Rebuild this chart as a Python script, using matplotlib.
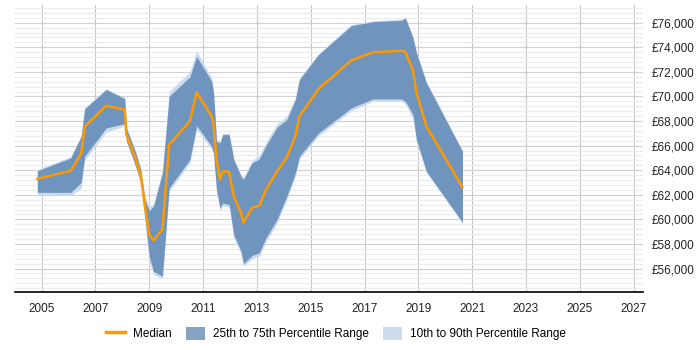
import matplotlib
matplotlib.use("Agg")
import matplotlib.pyplot as plt
from matplotlib.patches import Patch
from matplotlib.lines import Line2D
from matplotlib.ticker import MultipleLocator, FixedLocator, FuncFormatter

plt.rcParams['font.family'] = ['Liberation Sans', 'DejaVu Sans']

years = [2004.84, 2006.08, 2006.47, 2006.6, 2007.4, 2008.09, 2008.15, 2008.5,
         2008.69, 2008.84, 2009.0, 2009.16, 2009.49, 2009.74, 2010.51, 2010.76,
         2011.32, 2011.39, 2011.5, 2011.63, 2011.73, 2011.97, 2012.14, 2012.41,
         2012.5, 2012.82, 2013.09, 2013.34, 2013.75, 2014.11, 2014.43, 2014.58,
         2015.29, 2016.51, 2017.31, 2018.37, 2018.52, 2018.8, 2018.93, 2019.3,
         2020.64]
median = [63300, 63950, 65350, 67550, 69250, 68930, 66900, 64860,
          63500, 61070, 58760, 58300, 59170, 66080, 67980, 70340,
          68380, 67710, 64860, 63240, 63910, 63860, 61880, 60530,
          59720, 60940, 61120, 62420, 63910, 65050, 66760, 68380,
          70610, 72940, 73590, 73720, 73620, 72120, 70290, 67570,
          62610]
p75 = [63950, 65000, 66750, 69000, 70550, 69820, 67440, 65400,
       64000, 61600, 60700, 61070, 63780, 70010, 71590, 73260,
       71230, 70290, 66350, 66220, 66890, 66890, 64860, 63500,
       63240, 64590, 64920, 66000, 67500, 68110, 69740, 71370,
       73400, 75760, 76080, 76190, 76380, 74760, 73540, 71100,
       65540]
p25 = [62200, 62200, 63000, 65130, 67440, 67790, 66400, 64300,
       63000, 60250, 57000, 55780, 55375, 62560, 64860, 67630,
       65940, 65400, 62420, 60940, 61340, 61200, 58760, 57410,
       56400, 57060, 57280, 58500, 60000, 61880, 63780, 65130,
       67030, 69070, 69800, 69800, 69600, 68520, 66490, 63910,
       59770]
p90 = [64050, 65100, 66850, 69100, 70650, 69900, 67500, 65500,
       64100, 61900, 61000, 61300, 64000, 70400, 72000, 73700,
       71500, 70500, 66500, 66400, 67000, 67000, 65000, 63650,
       63400, 64800, 65200, 66300, 67800, 68400, 69900, 71500,
       73500, 75850, 76150, 76300, 76450, 74900, 73650, 71200,
       65600]
p10 = [62000, 61950, 62500, 64800, 67100, 67600, 66300, 64200,
       62800, 59800, 56500, 55500, 55200, 62300, 64600, 67300,
       65700, 65200, 62200, 60700, 61100, 61000, 58500, 57200,
       56200, 56800, 57000, 58200, 59700, 61600, 63500, 64900,
       66800, 68850, 69600, 69600, 69400, 68200, 66300, 63800,
       59650]
tick_years = list(range(2005, 2028, 2))

orange = '#ff9900'
dark = '#6f94bd'
light = '#c9daed'

fig = plt.figure(figsize=(7, 3.5), dpi=100)
ax = fig.add_axes([0.021, 0.166, 0.898, 0.82])

ax.fill_between(years, p10, p90, color=light, lw=0, zorder=2)
ax.fill_between(years, p25, p75, color=dark, lw=0, zorder=3)
ax.plot(years, median, color=orange, lw=1.8, zorder=4)

ax.set_xlim(2004.0, 2027.36)
ax.set_ylim(54100, 77450)
ax.xaxis.set_major_locator(FixedLocator(tick_years))
ax.xaxis.set_major_formatter(FuncFormatter(lambda v, p: f'{int(round(v))}'))
ax.yaxis.set_major_locator(MultipleLocator(2000))
ax.yaxis.set_minor_locator(MultipleLocator(400))
ax.yaxis.set_major_formatter(FuncFormatter(lambda v, p: f'£{int(v):,}'))
ax.yaxis.tick_right()

ax.grid(True, axis='x', which='major', color='#c8c8c8', lw=0.8, zorder=0)
ax.grid(True, axis='y', which='major', color='#d0d0d0', lw=0.8, zorder=0)
ax.grid(True, axis='y', which='minor', color='#ececec', lw=0.8, zorder=0)

for side in ['top', 'right', 'left']:
    ax.spines[side].set_visible(False)
ax.spines['bottom'].set_color('black')
ax.spines['bottom'].set_linewidth(1.2)
ax.tick_params(axis='both', which='both', length=0, labelsize=8.5, colors='#222222')
ax.tick_params(axis='x', pad=8)
ax.tick_params(axis='y', pad=6)

handles = [Line2D([0], [0], color=orange, lw=2.5),
           Patch(facecolor='#87a3c4', edgecolor='none'),
           Patch(facecolor='#cddcee', edgecolor='none')]
labels = ['Median', '25th to 75th Percentile Range', '10th to 90th Percentile Range']
fig.legend(handles, labels, loc='center', bbox_to_anchor=(0.48, 0.047), ncol=3,
           frameon=False, fontsize=8.5, handlelength=1.6, handleheight=1.3,
           columnspacing=1.2, handletextpad=0.7)

fig.savefig('out.png', dpi=100)
